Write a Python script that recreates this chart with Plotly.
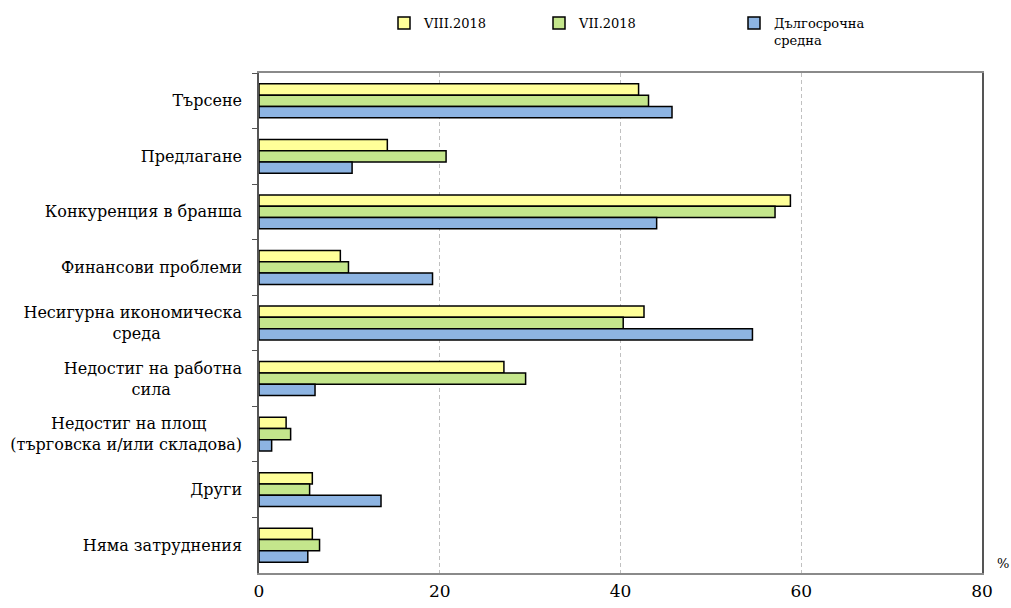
import plotly.graph_objects as go

NB = "\u00a0"
categories = [
    "Търсене",
    "Предлагане",
    "Конкуренция в бранша",
    "Финансови проблеми",
    "Несигурна икономическа<br>среда" + NB * 16,
    "Недостиг на работна<br>сила" + NB * 14,
    "Недостиг на площ" + NB * 7 + "<br>(търговска и/или складова)",
    "Други",
    "Няма затруднения",
]
viii_2018 = [42.0, 14.2, 58.8, 9.0, 42.6, 27.1, 3.0, 5.9, 5.9]
vii_2018 = [43.1, 20.7, 57.1, 9.9, 40.3, 29.5, 3.5, 5.6, 6.7]
long_term = [45.7, 10.3, 44.0, 19.2, 54.6, 6.2, 1.4, 13.5, 5.4]
series_names = ["VIII.2018", "VII.2018", "Дългосрочна<br>средна"]
series_colors = ["#FFFF99", "#C4E68C", "#8DB4E2"]
x_ticks = [0, 20, 40, 60, 80]

ff = "DejaVu Serif, serif"

fig = go.Figure()
legend_ids = ["legend2", "legend3", "legend4"]
for vals, name, col, lg in zip([viii_2018, vii_2018, long_term], series_names, series_colors, legend_ids):
    fig.add_trace(go.Bar(
        y=categories, x=vals, name=name, orientation="h",
        marker=dict(color=col, line=dict(color="black", width=1.5)),
        legend=lg,
    ))

PL, PR, PT, PB = 259, 982, 73, 573
def lx(px):
    return (px - PL) / (PR - PL)
def ly(py):
    return (PB - py) / (PB - PT)

leg_common = dict(orientation="h", yanchor="top", y=ly(8), xanchor="left",
                  xref="paper", yref="paper", valign="top",
                  font=dict(family=ff, size=13, color="black"),
                  bgcolor="rgba(0,0,0,0)", itemwidth=30, tracegroupgap=0)
fig.update_layout(
    barmode="group",
    bargap=0.39,
    bargroupgap=0,
    width=1011, height=608,
    margin=dict(l=PL, r=1011 - PR, t=PT, b=608 - PB, autoexpand=False),
    paper_bgcolor="white",
    plot_bgcolor="white",
    font=dict(family=ff, size=16, color="black"),
    legend2=dict(leg_common, x=lx(384)),
    legend3=dict(leg_common, x=lx(539)),
    legend4=dict(leg_common, x=lx(734)),
    xaxis=dict(
        range=[0, 80], tickvals=x_ticks, ticktext=[str(t) for t in x_ticks],
        showgrid=True, gridcolor="#C0C0C0", griddash="4px,3px", gridwidth=1,
        showline=True, linecolor="#8A8A8A", linewidth=1.5, mirror=True,
        ticks="", zeroline=False,
        tickfont=dict(family=ff, size=17, color="black"),
        ticklabelstandoff=2,
    ),
    yaxis=dict(
        autorange="reversed", type="category",
        showline=True, linecolor="#555555", linewidth=1.5, mirror=True,
        ticks="outside", ticklen=5, tickcolor="#555555", tickson="boundaries",
        showgrid=False,
        tickfont=dict(family=ff, size=16, color="black"),
        ticklabelstandoff=12,
    ),
)
fig.add_annotation(text="%", x=1.0, xref="paper", xanchor="center", xshift=21,
                   y=ly(563), yref="paper", yanchor="middle", showarrow=False,
                   font=dict(family=ff, size=13, color="black"))

fig.write_html("out.html", config={"displayModeBar": False},
               post_script="document.body.style.margin='0';")
